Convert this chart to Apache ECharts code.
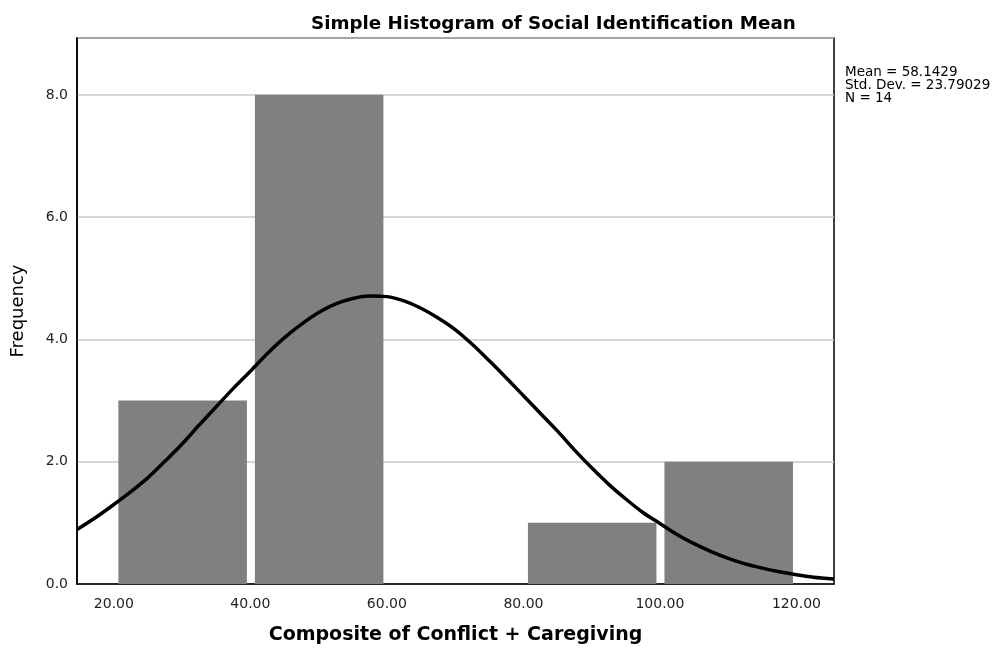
<!DOCTYPE html>
<html>
<head>
<meta charset="utf-8">
<title>Simple Histogram of Social Identification Mean</title>
<script src="https://cdn.jsdelivr.net/npm/echarts@6/dist/echarts.min.js"></script>
<style>
  html, body { margin: 0; padding: 0; background: #fff; }
  #chart { width: 998px; height: 652px; }
</style>
</head>
<body>
<div id="chart"></div>
<script>
// histogram bins (lower edge, upper edge) and counts
var binStart = [20, 40, 60, 80, 100];
var binEnd = [40, 60, 80, 100, 120];
var counts = [3, 8, 0, 1, 2];

// normal curve
var curveX = [14.6, 17.5, 20, 22.5, 25, 27.5, 30, 32.5, 35, 37.5, 40, 42.5, 45, 47.5, 50, 52.5, 55, 57.5,
  60, 62.5, 65, 67.5, 70, 72.5, 75, 77.5, 80, 82.5, 85, 87.5, 90, 92.5, 95, 97.5, 100, 102.5, 105,
  107.5, 110, 112.5, 115, 117.5, 120, 122.5, 125.5];
var curveY = [0.89, 1.10, 1.30, 1.51, 1.74, 2.01, 2.29, 2.60, 2.90, 3.20, 3.48, 3.77, 4.03, 4.25, 4.44, 4.58, 4.67, 4.71,
  4.70, 4.63, 4.51, 4.35, 4.16, 3.92, 3.65, 3.37, 3.08, 2.79, 2.50, 2.19, 1.90, 1.63, 1.39, 1.17, 0.99, 0.81, 0.66,
  0.53, 0.42, 0.33, 0.26, 0.20, 0.15, 0.11, 0.08];

var statsLines = ['Mean = 58.1429', 'Std. Dev. = 23.79029', 'N = 14'];

var font = '"DejaVu Sans", "Open Sans", sans-serif';

var chart = echarts.init(document.getElementById('chart'));

var barData = binStart.map(function (s, i) {
  return [s, binEnd[i], counts[i]];
});
var curveData = curveX.map(function (x, i) {
  return [x, curveY[i]];
});

var option = {
  backgroundColor: '#fff',
  animation: false,
  title: {
    text: 'Simple Histogram of Social Identification Mean',
    left: 306,
    top: 10,
    textStyle: {
      fontFamily: font,
      fontSize: 18.3,
      fontWeight: 'bold',
      color: '#000',
    },
  },
  graphic: [
    {
      type: 'text',
      left: 845,
      top: 65,
      style: {
        text: statsLines.join('\n'),
        fontFamily: font,
        fontSize: 13.5,
        lineHeight: 13,
        fill: '#000',
      },
    },
  ],
  grid: {
    left: 77,
    top: 38,
    right: 164,
    bottom: 68,
    show: true,
    borderColor: '#000',
    borderWidth: 1.5,
    backgroundColor: 'transparent',
  },
  xAxis: {
    type: 'value',
    min: 14.6,
    max: 125.5,
    splitNumber: 5,
    name: 'Composite of Conflict + Caregiving',
    nameLocation: 'middle',
    nameGap: 42,
    nameTextStyle: {
      fontFamily: font,
      fontSize: 19,
      fontWeight: 'bold',
      color: '#000',
    },
    axisLine: { lineStyle: { color: '#000', width: 1.5 } },
    axisTick: { show: false },
    splitLine: { show: false },
    axisLabel: {
      showMinLabel: false,
      showMaxLabel: false,
      margin: 13,
      fontFamily: font,
      fontSize: 14,
      color: '#222',
      formatter: function (v) {
        return v % 20 === 0 ? v.toFixed(2) : '';
      },
    },
  },
  yAxis: {
    type: 'value',
    min: 0,
    max: 8.93,
    interval: 2,
    name: 'Frequency',
    nameLocation: 'middle',
    nameGap: 50,
    nameTextStyle: {
      fontFamily: font,
      fontSize: 18,
      color: '#000',
    },
    axisLine: { show: true, lineStyle: { color: '#000', width: 1.5 } },
    axisTick: { show: false },
    splitLine: { lineStyle: { color: '#c8c8c8', width: 1.5 } },
    axisLabel: {
      margin: 9,
      fontFamily: font,
      fontSize: 14,
      color: '#222',
      formatter: function (v) {
        return v % 2 === 0 ? v.toFixed(1) : '';
      },
    },
  },
  series: [
    {
      type: 'custom',
      data: barData,
      encode: { x: [0, 1], y: 2 },
      renderItem: function (params, api) {
        var lo = api.coord([api.value(0), 0]);
        var hi = api.coord([api.value(1), api.value(2)]);
        if (api.value(2) <= 0) return null;
        return {
          type: 'rect',
          shape: {
            x: lo[0] + 4.5,
            y: hi[1],
            width: hi[0] - lo[0] - 8,
            height: lo[1] - hi[1],
          },
          style: { fill: '#808080' },
        };
      },
      z: 2,
    },
    {
      type: 'line',
      data: curveData,
      smooth: 0.3,
      showSymbol: false,
      lineStyle: { color: '#000', width: 3.5 },
      z: 3,
    },
  ],
};

chart.setOption(option);
</script>
</body>
</html>
